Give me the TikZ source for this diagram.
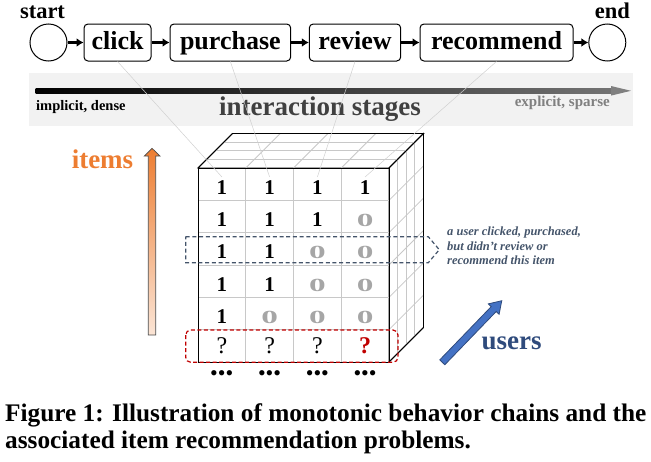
\documentclass[tikz,border=0pt]{standalone}
\usepackage{fontspec}
\usepackage{graphicx}
\setmainfont{Liberation Serif}
\usetikzlibrary{arrows.meta}

\definecolor{bandgray}{HTML}{F2F2F2}
\definecolor{stagegray}{HTML}{404040}
\definecolor{gridgray}{HTML}{C8C8C8}
\definecolor{guidegray}{HTML}{D0D0D0}
\definecolor{zerogray}{HTML}{A6A6A6}
\definecolor{slate}{HTML}{44546A}
\definecolor{darkred}{HTML}{C00000}
\definecolor{itemorange}{HTML}{ED7D31}
\definecolor{itemlight}{HTML}{FBE5D6}
\definecolor{userblue}{HTML}{4472C4}
\definecolor{userdark}{HTML}{2F4B7C}

\newcommand{\zro}{\scalebox{1.8}[1]{0}}

\begin{document}
\begin{tikzpicture}[x=1pt,y=-1pt,>={Latex[length=7pt,width=9pt]},
  stage/.style={draw=black,rounded corners=4pt,line width=1pt,minimum height=37pt,inner xsep=0pt,font=\fontsize{26}{26}\selectfont\bfseries,text height=18pt,text depth=5pt},
  endpoint/.style={shape=circle,draw=black,line width=1pt,minimum size=37pt,inner sep=0pt},
  one/.style={anchor=base,inner sep=3pt,font=\fontsize{21}{21}\selectfont\bfseries},
  zero/.style={anchor=base,inner sep=3pt,text=zerogray,font=\fontsize{18.5}{18.5}\selectfont\bfseries},
  qmark/.style={anchor=base,inner sep=3pt,font=\fontsize{24}{24}\selectfont},
  more/.style={font=\fontsize{22}{22}\selectfont},
  guide/.style={draw=guidegray,line width=0.5pt},
  cellline/.style={draw=gridgray,line width=0.8pt},
  edgeline/.style={draw=black,line width=0.9pt}]
\useasboundingbox (0,0) rectangle (651,461);

      % behaviour chain
      \node[endpoint] (0) at (48.5,42.5) {};
      \node[stage,minimum width=67pt] (1) at (117.5,42.5) {click};
      \node[stage,minimum width=120.7pt] (2) at (230.35,42.5) {purchase};
      \node[stage,minimum width=91.4pt] (3) at (355,42.5) {review};
      \node[stage,minimum width=153pt] (4) at (496.5,42.5) {recommend};
      \node[endpoint] (5) at (607.3,42.5) {};
      \node[anchor=base,inner sep=0pt,font=\fontsize{22.5}{22.5}\selectfont\bfseries] (start) at (42.5,18) {start};
      \node[anchor=base,inner sep=0pt,font=\fontsize{22.5}{22.5}\selectfont\bfseries] (end) at (612.5,18.5) {end};
      \path [->,line width=2.5pt](0) edge (1) ;
      \path [->,line width=2.5pt](1) edge (2) ;
      \path [->,line width=2.5pt](2) edge (3) ;
      \path [->,line width=2.5pt](3) edge (4) ;
      \path [->,line width=2.5pt](4) edge (5) ;

      % interaction stages band
      \fill[bandgray] (29,72.7) rectangle (633.3,126);
      \shade[left color=black,right color=black!55] (35.7,88.3) rectangle (611,93.3);
      \fill[black!50] (611,86) -- (631,90.8) -- (611,95.6) -- cycle;
      \node[anchor=base west,inner sep=0pt,font=\fontsize{14.5}{14.5}\selectfont\bfseries] (implicit) at (36,110) {implicit, dense};
      \node[anchor=base east,inner sep=0pt,text=black!50,font=\fontsize{15}{15}\selectfont\bfseries] (explicit) at (610,106.7) {explicit, sparse};
      \node[anchor=base,inner sep=0pt,text=stagegray,font=\fontsize{27}{27}\selectfont\bfseries] (stages) at (320,115) {interaction stages};

      % cube: top and right faces
      \filldraw[fill=white,edgeline] (198,168) -- (232.5,133.5) -- (423.5,133.5) -- (389,168) -- cycle;
      \filldraw[fill=white,edgeline] (389,168) -- (423.5,133.5) -- (423.5,327.5) -- (389,362) -- cycle;
      \draw[cellline] (206.625,159.375) -- (397.625,159.375) (215.25,150.75) -- (406.25,150.75) (223.875,142.125) -- (414.875,142.125);
      \draw[cellline] (245.75,168) -- (280.25,133.5) (293.5,168) -- (328,133.5) (341.25,168) -- (375.75,133.5);
      \draw[cellline] (397.625,159.375) -- (397.625,353.375) (406.25,150.75) -- (406.25,344.75) (414.875,142.125) -- (414.875,336.125);
      \draw[cellline] (389,200.33) -- (423.5,165.83) (389,232.67) -- (423.5,198.17) (389,265) -- (423.5,230.5) (389,297.33) -- (423.5,262.83) (389,329.67) -- (423.5,295.17);
      \draw[edgeline] (198,168) -- (232.5,133.5) -- (423.5,133.5) -- (389,168) (423.5,133.5) -- (423.5,327.5) -- (389,362);

      % cube: front face
      \draw[cellline] (245.75,168) -- (245.75,362) (293.5,168) -- (293.5,362) (341.25,168) -- (341.25,362);
      \draw[cellline] (198,200.33) -- (389,200.33) (198,232.67) -- (389,232.67) (198,265) -- (389,265) (198,297.33) -- (389,297.33) (198,329.67) -- (389,329.67);
      \draw[edgeline] (198,168) rectangle (389,362);

      \node[one] (r1c1) at (221.9,194) {1};
      \node[one] (r1c2) at (269.6,194) {1};
      \node[one] (r1c3) at (317.4,194) {1};
      \node[one] (r1c4) at (365.1,194) {1};
      \node[one] (r2c1) at (221.9,226.3) {1};
      \node[one] (r2c2) at (269.6,226.3) {1};
      \node[one] (r2c3) at (317.4,226.3) {1};
      \node[zero] (r2c4) at (365.1,226.3) {\zro};
      \node[one] (r3c1) at (221.9,258.7) {1};
      \node[one] (r3c2) at (269.6,258.7) {1};
      \node[zero] (r3c3) at (317.4,258.7) {\zro};
      \node[zero] (r3c4) at (365.1,258.7) {\zro};
      \node[one] (r4c1) at (221.9,291) {1};
      \node[one] (r4c2) at (269.6,291) {1};
      \node[zero] (r4c3) at (317.4,291) {\zro};
      \node[zero] (r4c4) at (365.1,291) {\zro};
      \node[one] (r5c1) at (221.9,323.3) {1};
      \node[zero] (r5c2) at (269.6,323.3) {\zro};
      \node[zero] (r5c3) at (317.4,323.3) {\zro};
      \node[zero] (r5c4) at (365.1,323.3) {\zro};
      \node[qmark] (r6c1) at (221.9,353.5) {?};
      \node[qmark] (r6c2) at (269.6,353.5) {?};
      \node[qmark] (r6c3) at (317.4,353.5) {?};
      \node[qmark,text=darkred,font=\fontsize{24}{24}\selectfont\bfseries] (r6c4) at (365.1,353.5) {?};
      \node[more] (m1) at (221.7,376) {•••};
      \node[more] (m2) at (269.6,376) {•••};
      \node[more] (m3) at (317.4,376) {•••};
      \node[more] (m4) at (365.1,376) {•••};

      % stage to column links
      \draw[guide] (1.south) -- (r1c1.north);
      \draw[guide] (2.south) -- (r1c2.north);
      \draw[guide] (3.south) -- (r1c3.north);
      \draw[guide] (4.south) -- (r1c4.north);

      % highlighted rows
      \draw[slate,line width=1.2pt,dash pattern=on 4pt off 2.7pt] (185.7,236.7) -- (428.3,236.7) -- (439.3,249.7) -- (428.3,262.7) -- (185.7,262.7) -- cycle;
      \draw[darkred,line width=1.2pt,dash pattern=on 4pt off 2.5pt,rounded corners=5pt] (185.7,330) rectangle (398,362.3);
      \node[anchor=north west,inner sep=0pt,align=left,text=slate,font=\fontsize{12.5}{14.5}\selectfont\bfseries\itshape] (note) at (447,227) {a user clicked, purchased,\\but didn’t review or\\recommend this item};

      % items and users
      \shade[top color=itemorange,bottom color=itemlight,draw=black!70,line width=0.7pt] (148.3,335) -- (148.3,156) -- (144.3,156) -- (152,148.3) -- (160,156) -- (155.7,156) -- (155.7,335) -- cycle;
      \node[anchor=base,inner sep=0pt,text=itemorange,font=\fontsize{27}{27}\selectfont\bfseries] (items) at (102.5,168.3) {items};
      \begin{scope}[shift={(442.3,362.3)},rotate=46]
        \filldraw[fill=userblue,draw=userdark,line width=0.8pt] (0,-3.5) -- (74,-3.5) -- (74,-7.5) -- (85.6,0) -- (74,7.5) -- (74,3.5) -- (0,3.5) -- cycle;
      \end{scope}
      \node[anchor=base,inner sep=0pt,text=userdark,font=\fontsize{27}{27}\selectfont\bfseries] (users) at (511.7,349.3) {users};

      % caption
      \node[anchor=base west,inner sep=0pt,align=left,font=\fontsize{25.3}{26.5}\selectfont\bfseries] (caption) at (5,448) {Figure 1: Illustration of monotonic behavior chains and the\\associated item recommendation problems.};

    \end{tikzpicture}
\end{document}
